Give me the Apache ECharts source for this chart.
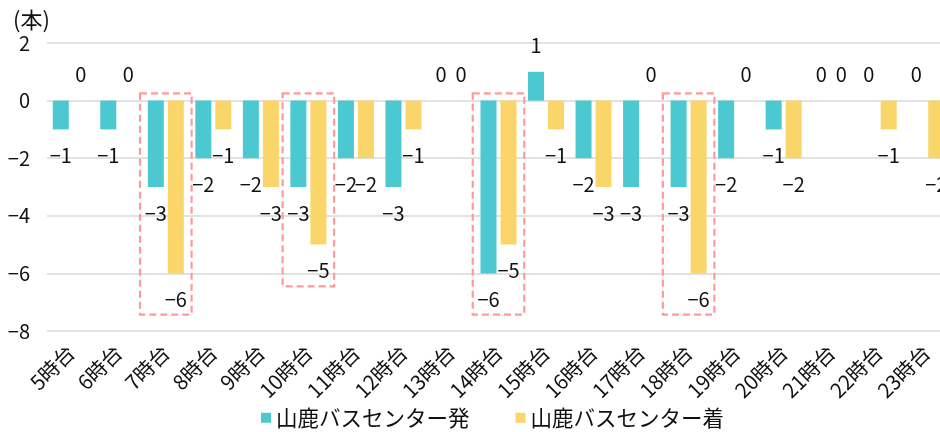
<!DOCTYPE html>
<html style="height: 100%">
<head>
    <meta charset="utf-8">
    <script src="https://cdn.jsdelivr.net/npm/echarts@6/dist/echarts.min.js"></script>
</head>
<body style="height: 100%; margin: 0; background: #fff; overflow: hidden">
    <!-- the original chart is cut off on the right, so the canvas is a bit wider than the window -->
    <div id="chart" style="width: 950px; height: 432px"></div>
    <script type="text/javascript">
        var hours = ['5時台', '6時台', '7時台', '8時台', '9時台', '10時台', '11時台', '12時台', '13時台', '14時台',
            '15時台', '16時台', '17時台', '18時台', '19時台', '20時台', '21時台', '22時台', '23時台'];
        var departures = [-1, -1, -3, -2, -2, -3, -2, -3, 0, -6, 1, -2, -3, -3, -2, -1, 0, 0, 0];
        var arrivals = [0, 0, -6, -1, -3, -5, -2, -1, 0, -5, -1, -3, 0, -6, 0, -2, 0, -1, -2];
        var seriesNames = ['山鹿バスセンター発', '山鹿バスセンター着'];
        // highlighted hours and how far down each box goes
        var boxHours = ['7時台', '10時台', '14時台', '18時台'];
        var boxBottoms = [-7.43, -6.45, -7.43, -7.43];
        var boxTop = 0.25;

        var font = "'Noto Sans CJK JP', sans-serif";
        var minus = function (v) { return String(v).replace('-', '\u2212'); };

        function toData(values) {
            return values.map(function (v) {
                return {
                    value: v,
                    label: { position: v < 0 ? 'bottom' : 'top' }
                };
            });
        }

        var myChart = echarts.init(document.getElementById('chart'));
        var colors = ['#4bc8d0', '#f9d56a'];
        myChart.setOption({
            animation: false,
            color: colors,
            textStyle: { fontFamily: font },
            title: {
                text: '(本)', left: 8, top: 4,
                textStyle: { fontSize: 22, fontWeight: 'normal', color: '#111', fontFamily: font }
            },
            legend: {
                top: 402, left: 256,
                itemWidth: 10, itemHeight: 10, itemGap: 46,
                icon: 'rect',
                textStyle: { fontSize: 21.5, color: '#111', fontFamily: font },
                data: seriesNames
            },
            grid: { left: 47, top: 43, right: 0, height: 288 },
            xAxis: {
                type: 'category',
                data: hours,
                axisLine: { show: false },
                axisTick: { show: false },
                axisLabel: { rotate: 45, fontSize: 20.5, color: '#111', margin: 18, interval: 0, fontFamily: font }
            },
            yAxis: {
                type: 'value',
                min: -8, max: 2, interval: 2,
                axisLabel: { fontSize: 20, color: '#111', margin: 17, formatter: minus, fontFamily: font },
                splitLine: { lineStyle: { color: '#d9d9d9', width: 1.5 } }
            },
            series: [
                {
                    name: seriesNames[0], type: 'bar', barWidth: 16, barGap: '25%',
                    data: toData(departures),
                    label: { show: true, distance: 16, fontSize: 20, color: '#111', formatter: function (p) { return minus(p.value); }, fontFamily: font }
                },
                {
                    name: seriesNames[1], type: 'bar', barWidth: 16, barGap: '25%',
                    data: toData(arrivals),
                    label: { show: true, distance: 16, fontSize: 20, color: '#111', formatter: function (p) { return minus(p.value); }, fontFamily: font }
                }
            ]
        });

        // dashed boxes round the busiest hours
        var band = (950 - 47) / hours.length;
        var boxes = boxHours.map(function (h, i) {
            var top = myChart.convertToPixel({ gridIndex: 0 }, [h, boxTop]);
            var bottom = myChart.convertToPixel({ gridIndex: 0 }, [h, boxBottoms[i]]);
            return {
                type: 'rect',
                shape: { x: top[0] - band / 2 - 2, y: top[1], width: band + 4, height: bottom[1] - top[1] },
                style: { fill: 'none', stroke: '#ff9a9a', lineWidth: 2.2, lineDash: [7, 4] },
                z: 10
            };
        });
        myChart.setOption({ graphic: boxes });
    </script>
</body>
</html>
